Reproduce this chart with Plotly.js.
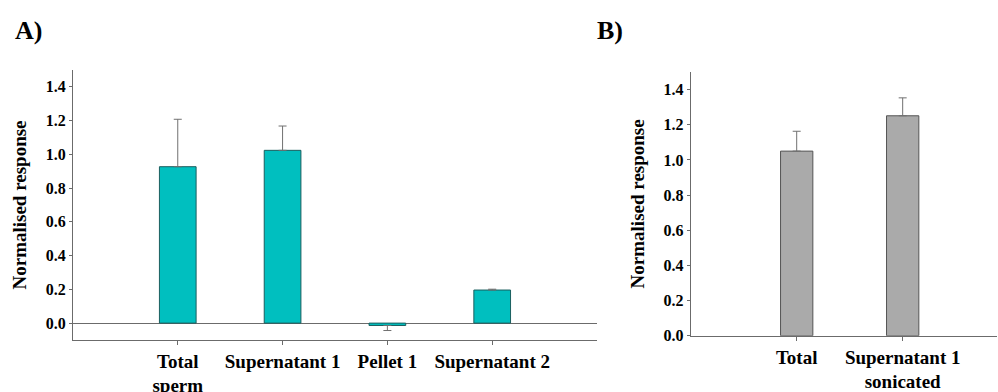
<!DOCTYPE html>
<html>
<head>
<meta charset="utf-8">
<script src="https://cdn.plot.ly/plotly-3.0.1.min.js"></script>
<style>html,body{margin:0;padding:0;background:#fff;}#chart{width:998px;height:392px;}</style>
</head>
<body>
<div id="chart"></div>
<script>
// Panel A data
var catsA = ["Total<br>sperm", "Supernatant 1", "Pellet 1", "Supernatant 2"];
var valsA = [0.927, 1.024, -0.014, 0.196];
var errUpA = [0.281, 0.144, 0, 0.005];
var errDownA = [0, 0, 0.03, 0];
// Panel B data
var catsB = ["Total", "Supernatant 1<br>sonicated"];
var valsB = [1.05, 1.251];
var errUpB = [0.113, 0.102];
var errDownB = [0, 0];
var yTicks = [0, 0.2, 0.4, 0.6, 0.8, 1.0, 1.2, 1.4];
var yTickText = ["0.0", "0.2", "0.4", "0.6", "0.8", "1.0", "1.2", "1.4"];

var font = "Liberation Serif";
var axisCol = "#6b6b6b";

var traceA = {
  type: "bar", x: [0,1,2,3], y: valsA, width: 0.35,
  marker: {color: "#00BFBF", line: {color: "#1a5e5e", width: 1}},
  error_y: {type: "data", symmetric: false, array: errUpA, arrayminus: errDownA, color: "#707070", thickness: 1, width: 4},
  xaxis: "x", yaxis: "y", hoverinfo: "none"
};
var traceB = {
  type: "bar", x: [0,1], y: valsB, width: 0.305,
  marker: {color: "#AAAAAA", line: {color: "#555555", width: 1}},
  error_y: {type: "data", symmetric: false, array: errUpB, arrayminus: errDownB, color: "#707070", thickness: 1, width: 4},
  xaxis: "x2", yaxis: "y2", hoverinfo: "none"
};

var xTickFont = {family: font, size: 19, color: "#000"};
var yTickFont = {family: font, size: 16, color: "#000"};
var titleFont = {family: font, size: 19, color: "#000"};

var layout = {
  width: 998, height: 392, showlegend: false,
  margin: {l: 0, r: 0, t: 0, b: 0},
  paper_bgcolor: "#fff", plot_bgcolor: "#fff",
  font: {family: font},
  xaxis: {
    domain: [0.0731, 0.5982], range: [-1, 4], tickmode: "array",
    tickvals: [0,1,2,3], ticktext: catsA.map(function(s){return "<b>"+s+"</b>";}),
    showline: true, linecolor: axisCol, linewidth: 1, ticks: "outside", ticklen: 4, tickcolor: axisCol,
    showgrid: false, zeroline: false, tickfont: xTickFont, anchor: "y"
  },
  yaxis: {
    domain: [0.1327, 0.8214], range: [-0.1, 1.5], tickmode: "array",
    tickvals: yTicks, ticktext: yTickText.map(function(s){return "<b>"+s+"</b>";}),
    showline: true, linecolor: axisCol, linewidth: 1, ticks: "outside", ticklen: 3, tickcolor: axisCol,
    showgrid: false, zeroline: true, zerolinecolor: axisCol, zerolinewidth: 1,
    tickfont: yTickFont, anchor: "x",
    title: {text: "<b>Normalised response</b>", font: titleFont, standoff: 14}
  },
  xaxis2: {
    domain: [0.6921, 0.999], range: [-1, 1.89], tickmode: "array",
    tickvals: [0,1], ticktext: catsB.map(function(s){return "<b>"+s+"</b>";}),
    showline: true, linecolor: axisCol, linewidth: 1, ticks: "outside", ticklen: 4, tickcolor: axisCol,
    showgrid: false, zeroline: false, tickfont: xTickFont, anchor: "y2"
  },
  yaxis2: {
    domain: [0.1436, 0.8163], range: [0, 1.5], tickmode: "array",
    tickvals: yTicks, ticktext: yTickText.map(function(s){return "<b>"+s+"</b>";}),
    showline: true, linecolor: axisCol, linewidth: 1, ticks: "outside", ticklen: 3, tickcolor: axisCol,
    showgrid: false, zeroline: false,
    tickfont: yTickFont, anchor: "x2",
    title: {text: "<b>Normalised response</b>", font: titleFont, standoff: 13}
  },
  annotations: [
    {text: "<b>A)</b>", xref: "paper", yref: "paper", x: 13/998, y: 1 - 30/392, xanchor: "left", yanchor: "middle", showarrow: false, font: {family: font, size: 26, color: "#000"}},
    {text: "<b>B)</b>", xref: "paper", yref: "paper", x: 595/998, y: 1 - 30/392, xanchor: "left", yanchor: "middle", showarrow: false, font: {family: font, size: 26, color: "#000"}}
  ]
};

Plotly.newPlot("chart", [traceA, traceB], layout, {displayModeBar: false, staticPlot: true});
</script>
</body>
</html>
